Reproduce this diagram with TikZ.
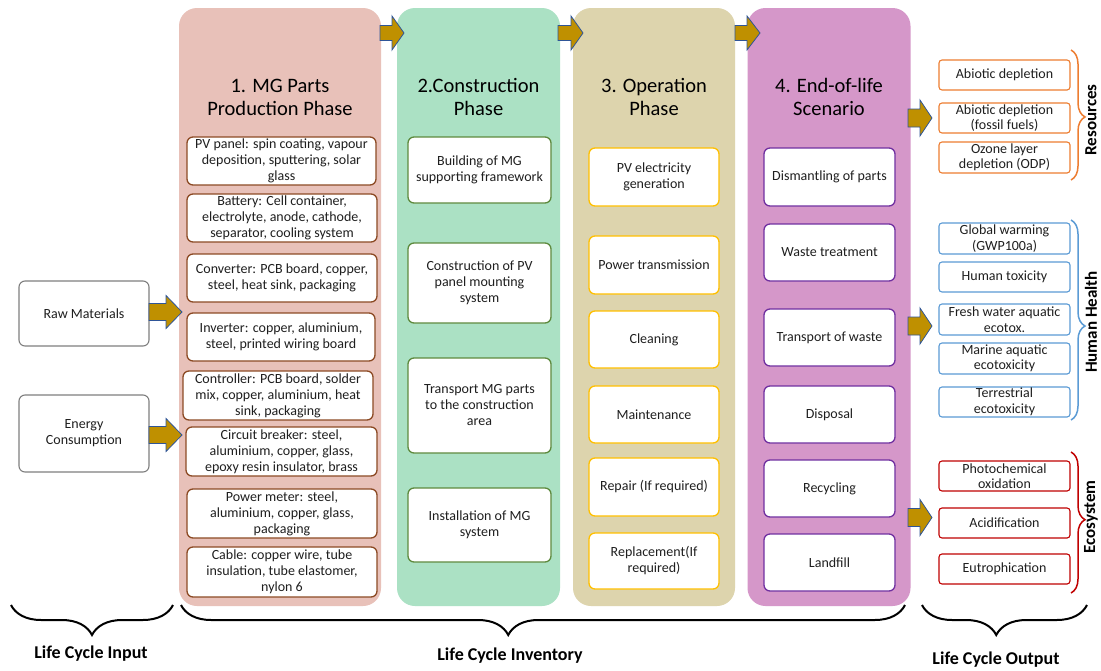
\documentclass[tikz,border=0pt]{standalone}
\usepackage{fontspec}
\setmainfont{Carlito}
\usetikzlibrary{decorations.pathreplacing}
\definecolor{pA}{HTML}{E8C1B9}
\definecolor{pB}{HTML}{ABE1C4}
\definecolor{pC}{HTML}{DDD4AD}
\definecolor{pD}{HTML}{D597C9}
\definecolor{bA}{HTML}{8C4A24}
\definecolor{bB}{HTML}{5E8A3E}
\definecolor{bC}{HTML}{FFC000}
\definecolor{bD}{HTML}{7030A0}
\definecolor{bIn}{HTML}{7F7F7F}
\definecolor{oRes}{HTML}{ED7D31}
\definecolor{oHH}{HTML}{5B9BD5}
\definecolor{oEco}{HTML}{C00000}
\definecolor{agold}{HTML}{BF9000}
\definecolor{ablue}{HTML}{2F5597}
\definecolor{txt}{HTML}{1F1F1F}
\newcommand\blockarr[6]{%
  \draw[barrow] (#1,#2-#5) -- (#3,#2-#5) -- (#3,#2-#6) -- (#4,#2) -- (#3,#2+#6) -- (#3,#2+#5) -- (#1,#2+#5) -- cycle;}
\begin{document}
\begin{tikzpicture}[
  x=1pt, y=-1pt,
  panel/.style={draw=none, rounded corners=18pt, inner sep=0pt},
  wh/.style 2 args={minimum width=#1pt, minimum height=#2pt},
  title/.style={align=center, font=\fontsize{20.5}{23}\selectfont, text=black},
  box/.style={draw=#1, fill=white, rounded corners=6pt, line width=1.3pt, align=center, inner sep=0.5pt, font=\fontsize{14}{16}\selectfont, text=txt},
  obox/.style={draw=#1, fill=white, rounded corners=3pt, line width=1.1pt, align=center, inner sep=0pt, font=\fontsize{14}{15.5}\selectfont, text=txt, minimum width=131pt},
  barrow/.style={fill=agold, draw=ablue, line width=0.8pt, line join=miter},
  bbrace/.style={decorate, decoration={brace, amplitude=30pt, mirror, aspect=#1}, line width=2pt, draw=black},
  rbrace/.style 2 args={decorate, decoration={brace, amplitude=14pt, aspect=#2}, line width=1.5pt, draw=#1},
  blabel/.style={font=\fontsize{18}{20}\selectfont\bfseries, text=black},
  vlabel/.style={font=\fontsize{17}{19}\selectfont\bfseries, text=black, rotate=90, inner sep=0pt}
]
\useasboundingbox (0,0) rectangle (1101,670);
\fill[white] (0,0) rectangle (1101,670);

% panels
\node[panel, fill=pA, wh={202}{598}] (P1) at (280,307) {};
\node[panel, fill=pB, wh={163}{598}] (P2) at (478.5,307) {};
\node[panel, fill=pC, wh={162}{598}] (P3) at (654,307) {};
\node[panel, fill=pD, wh={163}{598}] (P4) at (829,307) {};

\node[title] (T1) at (280,97) {1. MG Parts\\Production Phase};
\node[title] (T2) at (478.5,97) {2.Construction\\Phase};
\node[title] (T3) at (654,97) {3. Operation\\Phase};
\node[title] (T4) at (829,97) {4. End-of-life\\Scenario};

% panel arrows
\blockarr{380}{33}{392}{404}{7.5}{17}
\blockarr{558}{33}{571}{583}{7.5}{17}
\blockarr{735}{33}{747}{760}{7.5}{17}

% phase 1 boxes
\node[box=bA, wh={189}{48}] (pv) at (281.5,161) {PV panel: spin coating, vapour\\deposition, sputtering, solar\\glass};
\node[box=bA, wh={190}{48}] (bat) at (282,218) {Battery: Cell container,\\electrolyte, anode, cathode,\\separator, cooling system};
\node[box=bA, wh={190}{48}] (conv) at (282,278) {Converter: PCB board, copper,\\steel, heat sink, packaging};
\node[box=bA, wh={188}{48}] (inv) at (281,337) {Inverter: copper, aluminium,\\steel, printed wiring board};
\node[box=bA, wh={190}{49}] (ctrl) at (278,395.5) {Controller: PCB board, solder\\mix, copper, aluminium, heat\\sink, packaging};
\node[box=bA, wh={191}{49}] (cb) at (281.5,451.5) {Circuit breaker: steel,\\aluminium, copper, glass,\\epoxy resin insulator, brass};
\node[box=bA, wh={190}{49}] (pm) at (282,513.5) {Power meter: steel,\\aluminium, copper, glass,\\packaging};
\node[box=bA, wh={190}{50}] (cab) at (282,572) {Cable: copper wire, tube\\insulation, tube elastomer,\\nylon 6};

% phase 2 boxes
\node[box=bB, wh={143}{66}] (build) at (479.5,170) {Building of MG\\supporting framework};
\node[box=bB, wh={143}{80}] (cons) at (479.5,283) {Construction of PV\\panel mounting\\system};
\node[box=bB, wh={143}{95}] (trans) at (479.5,405.5) {Transport MG parts\\to the construction\\area};
\node[box=bB, wh={143}{74}] (inst) at (479.5,525) {Installation of MG\\system};

% phase 3 boxes
\node[box=bC, wh={130}{58}] (pvgen) at (654,177) {PV electricity\\generation};
\node[box=bC, wh={130}{58}] (ptr) at (654,265) {Power transmission};
\node[box=bC, wh={130}{57}] (clean) at (654,339.5) {Cleaning};
\node[box=bC, wh={130}{57}] (maint) at (654,414.5) {Maintenance};
\node[box=bC, wh={130}{58}] (rep) at (654,487) {Repair (If required)};
\node[box=bC, wh={130}{56}] (repl) at (654,561) {Replacement(If\\required)};

% phase 4 boxes
\node[box=bD, wh={131}{58}] (dism) at (829.5,177) {Dismantling of parts};
\node[box=bD, wh={131}{57}] (waste) at (829.5,252.5) {Waste treatment};
\node[box=bD, wh={131}{57}] (trw) at (829.5,337.5) {Transport of waste};
\node[box=bD, wh={131}{57}] (disp) at (829.5,414.5) {Disposal};
\node[box=bD, wh={131}{57}] (recy) at (829.5,488.5) {Recycling};
\node[box=bD, wh={131}{57}] (land) at (829.5,562.5) {Landfill};

% inputs
\node[box=bIn, line width=1.1pt, wh={130}{65}] (raw) at (84,313.5) {Raw Materials};
\node[box=bIn, line width=1.1pt, wh={130}{77}] (energy) at (84,433.5) {Energy\\Consumption};
\blockarr{149}{312}{166}{182}{8.5}{16.5}
\blockarr{149}{435}{166}{182}{8.5}{16.5}

% output arrows
\blockarr{908}{118}{920}{932}{9}{18}
\blockarr{908}{326}{920}{932}{9}{18}
\blockarr{908}{517.5}{920}{932}{9}{18}

% outputs
\node[obox=oRes, minimum height=30pt] (ab1) at (1004.5,75) {Abiotic depletion};
\node[obox=oRes, minimum height=30pt] (ab2) at (1004.5,118) {Abiotic depletion\\(fossil fuels)};
\node[obox=oRes, minimum height=31pt] (ozo) at (1004.5,157.5) {Ozone layer\\depletion (ODP)};
\node[obox=oHH, minimum height=31pt] (gw) at (1004.5,238.5) {Global warming\\(GWP100a)};
\node[obox=oHH, minimum height=30pt] (ht) at (1004.5,277) {Human toxicity};
\node[obox=oHH, minimum height=31pt] (fw) at (1004.5,319.5) {Fresh water aquatic\\ecotox.};
\node[obox=oHH, minimum height=31pt] (ma) at (1004.5,358.5) {Marine aquatic\\ecotoxicity};
\node[obox=oHH, minimum height=30pt] (te) at (1004.5,402) {Terrestrial\\ecotoxicity};
\node[obox=oEco, minimum height=30pt] (pc) at (1004.5,476) {Photochemical\\oxidation};
\node[obox=oEco, minimum height=30pt] (ac) at (1004.5,523) {Acidification};
\node[obox=oEco, minimum height=30pt] (eu) at (1004.5,569) {Eutrophication};

% right braces
\coordinate (r1a) at (1071,50);  \coordinate (r1b) at (1071,180);
\coordinate (r2a) at (1071,220); \coordinate (r2b) at (1071,420);
\coordinate (r3a) at (1071,452); \coordinate (r3b) at (1071,593);
\draw[rbrace={oRes}{0.515}] (r1a) -- (r1b);
\draw[rbrace={oHH}{0.53}] (r2a) -- (r2b);
\draw[rbrace={oEco}{0.48}] (r3a) -- (r3b);
\node[vlabel] (lres) at (1091,120) {Resources};
\node[vlabel] (lhh) at (1091,322) {Human Health};
\node[vlabel] (leco) at (1091,517) {Ecosystem};

% bottom braces
\coordinate (b1a) at (11,605);  \coordinate (b1b) at (173,605);
\coordinate (b2a) at (181,605); \coordinate (b2b) at (905,605);
\coordinate (b3a) at (922,605); \coordinate (b3b) at (1087,605);
\draw[bbrace=0.5] (b1a) -- (b1b);
\draw[bbrace=0.452] (b2a) -- (b2b);
\draw[bbrace=0.45] (b3a) -- (b3b);
\node[blabel] (lin) at (91,654) {Life Cycle Input};
\node[blabel] (linv) at (510,656) {Life Cycle Inventory};
\node[blabel] (lout) at (996,660) {Life Cycle Output};
\end{tikzpicture}
\end{document}
